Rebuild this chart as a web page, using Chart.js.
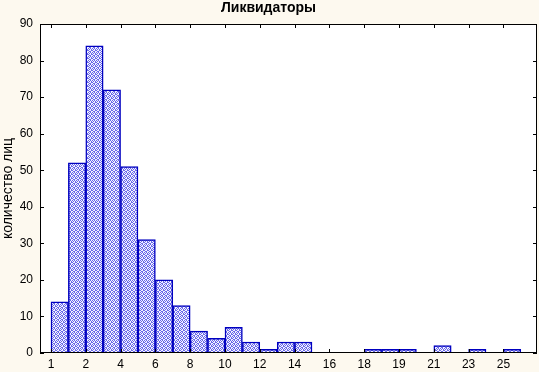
<!DOCTYPE html>
<html>
<head>
<meta charset="utf-8">
<script src="https://cdn.jsdelivr.net/npm/chart.js@4.4.1/dist/chart.umd.min.js"></script>
<style>
  html, body { margin: 0; padding: 0; background: #fdf9ef; }
  #wrap { width: 539px; height: 372px; }
</style>
</head>
<body>
<div id="wrap"><canvas id="chart" width="539" height="372"></canvas></div>
<script>
// histogram bins (index of class interval) and counts per bin
const bins = [0, 1, 2, 3, 4, 5, 6, 7, 8, 9, 10, 11, 12, 13, 14, 15, 16, 17, 18, 19, 20, 21, 22, 23, 24, 25, 26];
const counts = [14, 52, 84, 72, 51, 31, 20, 13, 6, 4, 7, 3, 1, 3, 3, 0, 0, 0, 1, 1, 1, 0, 2, 0, 1, 0, 1];

// x tick labels sit on every second bin boundary
const xTickBins = [0, 2, 4, 6, 8, 10, 12, 14, 16, 18, 20, 22, 24, 26];
const xTickLabels = ['1', '2', '4', '6', '8', '10', '12', '14', '16', '18', '19', '21', '23', '25'];
const yTicks = [0, 10, 20, 30, 40, 50, 60, 70, 80, 90];

const FONT = "'Liberation Sans', Arial, sans-serif";

// dotted blue fill like the original
const makePattern = (ctx) => {
    const pc = document.createElement('canvas');
    pc.width = 4;
    pc.height = 4;
    const p = pc.getContext('2d');
    p.fillStyle = '#f4f4ff';
    p.fillRect(0, 0, 4, 4);
    p.fillStyle = '#6a6aea';
    [[0, 0], [2, 0], [1, 1], [3, 1], [0, 2], [3, 2], [1, 3], [2, 3]].forEach(([x, y]) => p.fillRect(x, y, 1, 1));
    return ctx.createPattern(pc, 'repeat');
};

const frame = {
    id: 'frame',
    beforeDraw(chart) {
        const { ctx, chartArea: a } = chart;
        ctx.save();
        ctx.fillStyle = '#fdf9ef';
        ctx.fillRect(0, 0, chart.width, chart.height);
        ctx.fillStyle = '#ffffff';
        ctx.fillRect(a.left, a.top, a.right - a.left, a.bottom - a.top);
        ctx.restore();
    },
    afterDraw(chart) {
        const { ctx, chartArea: a, scales } = chart;
        ctx.save();
        ctx.strokeStyle = '#000';
        ctx.lineWidth = 1;
        ctx.strokeRect(a.left + 0.5, a.top + 0.5, a.right - a.left - 1, a.bottom - a.top - 1);
        ctx.beginPath();
        yTicks.forEach(v => {
            const y = Math.round(scales.y.getPixelForValue(v)) + 0.5;
            ctx.moveTo(a.left, y); ctx.lineTo(a.left + 4, y);
            ctx.moveTo(a.right, y); ctx.lineTo(a.right - 4, y);
        });
        xTickBins.forEach(v => {
            const x = Math.round(scales.x.getPixelForValue(v)) + 0.5;
            ctx.moveTo(x, a.bottom); ctx.lineTo(x, a.bottom - 4);
            ctx.moveTo(x, a.top); ctx.lineTo(x, a.top + 4);
        });
        ctx.stroke();
        ctx.restore();
    }
};

const canvas = document.getElementById('chart');
const ctx = canvas.getContext('2d');

new Chart(ctx, {
    type: 'bar',
    data: {
        datasets: [{
            label: 'Ликвидаторы',
            data: bins.map((b, i) => ({ x: b + 0.5, y: counts[i] })),
            backgroundColor: makePattern(ctx),
            borderColor: '#0000c0',
            borderWidth: 1.5,
            barPercentage: 1,
            categoryPercentage: 1
        }]
    },
    options: {
        responsive: false,
        animation: false,
        devicePixelRatio: 1,
        layout: { padding: { left: 0, right: 2, top: 0, bottom: 0 } },
        plugins: {
            legend: { display: false },
            tooltip: { enabled: false },
            title: {
                display: true,
                text: 'Ликвидаторы',
                color: '#000',
                font: { family: FONT, size: 14, weight: 'bold' },
                padding: { top: 0, bottom: 7.2 }
            }
        },
        scales: {
            x: {
                type: 'linear',
                min: -0.63,
                max: 27.93,
                offset: false,
                grid: { display: false, drawTicks: false },
                border: { display: false },
                afterBuildTicks: (scale) => {
                    scale.ticks = xTickBins.map(v => ({ value: v }));
                },
                afterFit: (scale) => { scale.height = 19; },
                ticks: {
                    autoSkip: false,
                    maxRotation: 0,
                    padding: 4,
                    color: '#000',
                    font: { family: FONT, size: 12 },
                    callback: (value, index) => xTickLabels[index]
                }
            },
            y: {
                min: 0,
                max: 90,
                grid: { display: false, drawTicks: false },
                border: { display: false },
                afterFit: (scale) => { scale.width = 40; },
                ticks: {
                    stepSize: 10,
                    padding: 7,
                    color: '#000',
                    font: { family: FONT, size: 12 }
                },
                title: {
                    display: true,
                    text: 'количество лиц',
                    color: '#000',
                    font: { family: FONT, size: 14 },
                    padding: 0
                }
            }
        }
    },
    plugins: [frame]
});
</script>
</body>
</html>
